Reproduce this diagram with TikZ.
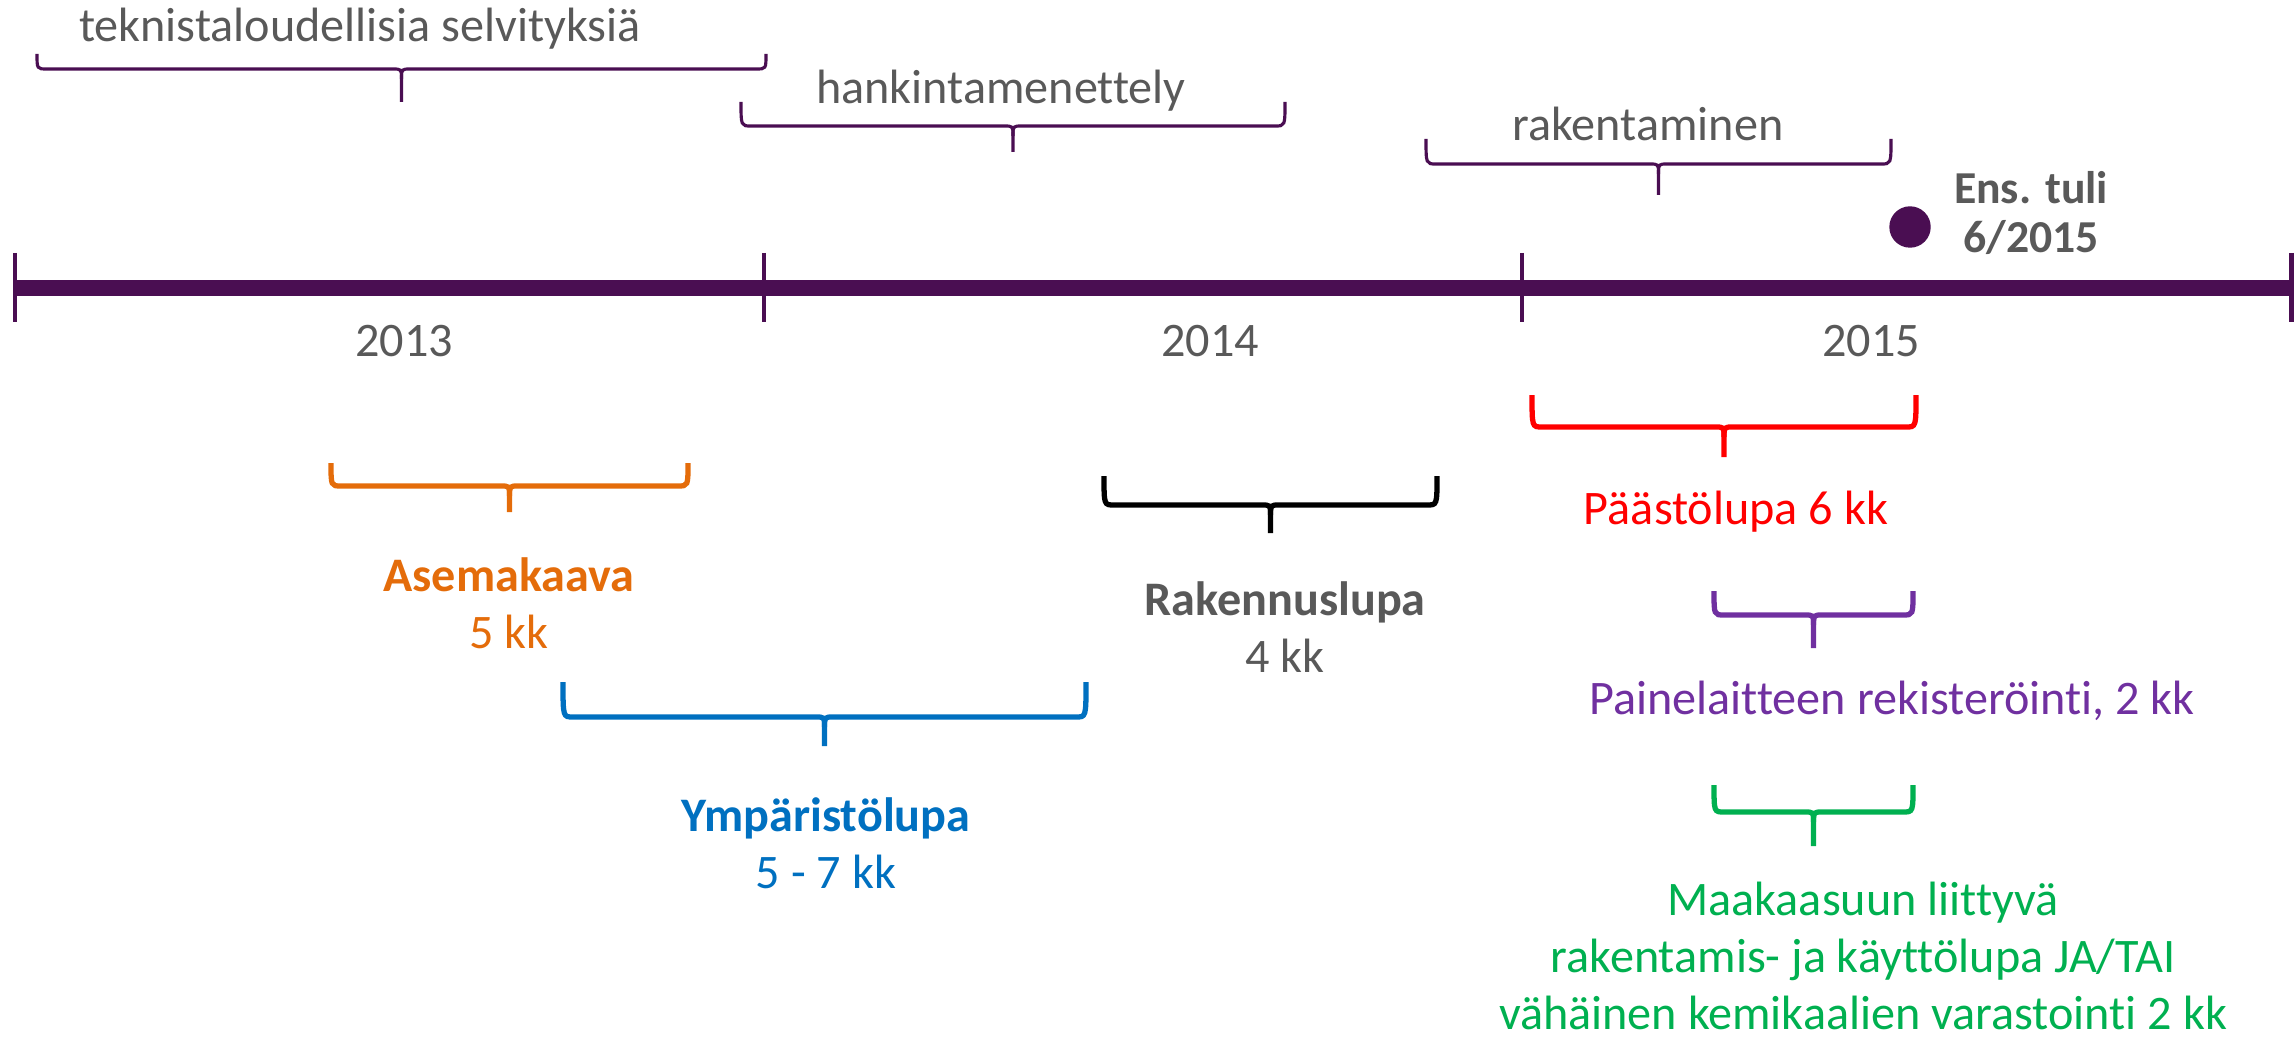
\documentclass[tikz,border=0pt]{standalone}
\usepackage{fontspec}
\setmainfont{Carlito}[Ligatures=NoCommon]
\usepackage{xcolor}
\usetikzlibrary{positioning}
\definecolor{axispurple}{RGB}{74,14,82}
\definecolor{labelgray}{RGB}{89,89,89}
\definecolor{kaavaorange}{RGB}{228,108,10}
\definecolor{lupablue}{RGB}{0,112,192}
\definecolor{painepurple}{RGB}{112,48,160}
\definecolor{kaasugreen}{RGB}{0,176,80}
% brace: style, left x, right x, top y, flat y, tip y
\newcommand{\spanbrace}[6]{%
  \pgfmathsetmacro\bracemid{(#2+#3)/2}
  \draw[#1] (#2,#4) .. controls (#2,#5) .. (#2+10,#5) -- (\bracemid-9,#5) .. controls (\bracemid,#5) .. (\bracemid,#5+10) -- (\bracemid,#6);
  \draw[#1] (#3,#4) .. controls (#3,#5) .. (#3-10,#5) -- (\bracemid+9,#5) .. controls (\bracemid,#5) .. (\bracemid,#5+10);
}

\begin{document}
\begin{tikzpicture}[x=0.01cm, y=-0.01cm,
    toptext/.style={text=labelgray, font=\fontsize{13.7}{16.5}\selectfont},
    permit/.style={font=\fontsize{13.7}{16.2}\selectfont, align=center},
    phase/.style={axispurple, line width=0.9pt},
    permitbrace/.style={line width=1.5pt}]
			\useasboundingbox (0,0) rectangle (2295,1040);
			% timeline
			\draw[axispurple, line width=4.6pt] (15,288) -- (2291,288);
			\draw[axispurple, line width=1.4pt] (15,253) -- (15,322);
			\draw[axispurple, line width=1.4pt] (764,253) -- (764,322);
			\draw[axispurple, line width=1.4pt] (1522,253) -- (1522,322);
			\draw[axispurple, line width=1.4pt] (2291,253) -- (2291,322);
			\node[toptext] (y2013) at (404,341) {2013};
			\node[toptext] (y2014) at (1210,341) {2014};
			\node[toptext] (y2015) at (1871,341) {2015};
			% start of operation
			\filldraw[axispurple] (1910,227) circle (20);
			\node[text=labelgray, font=\bfseries\fontsize{13}{13.8}\selectfont, align=center] (tuli) at (2031,213) {Ens. tuli\\6/2015};
			% phases above the axis
			\spanbrace{phase}{37}{766}{54}{69}{102}
			\node[toptext] (selvitys) at (360,29) {teknistaloudellisia selvityksiä};
			\spanbrace{phase}{741}{1285}{102}{126}{152}
			\node[toptext] (hankinta) at (1001,91) {hankintamenettely};
			\spanbrace{phase}{1426}{1891}{139}{164}{195}
			\node[toptext] (rakentaminen) at (1648,124) {rakentaminen};
			% permits below the axis
			\spanbrace{permitbrace, kaavaorange}{331}{688}{463}{486}{512}
			\node[permit, text=kaavaorange] (asemakaava) at (509,603) {\textbf{Asemakaava}\\5 kk};
			\spanbrace{permitbrace, lupablue}{563}{1086}{682}{717}{746}
			\node[permit, text=lupablue] (ymparisto) at (826,843) {\textbf{Ympäristölupa}\\5 - 7 kk};
			\spanbrace{permitbrace, black}{1104}{1437}{476}{505}{533}
			\node[permit, text=labelgray] (rakennus) at (1285,627) {\textbf{Rakennuslupa}\\4 kk};
			\spanbrace{permitbrace, red}{1532}{1916}{395}{427}{457}
			\node[permit, text=red] (paasto) at (1736,512) {Päästölupa 6 kk};
			\spanbrace{permitbrace, painepurple}{1714}{1913}{591}{615}{648}
			\node[permit, text=painepurple] (paine) at (1892,701) {Painelaitteen rekisteröinti, 2 kk};
			\spanbrace{permitbrace, kaasugreen}{1714}{1913}{785}{812}{846}
			\node[permit, text=kaasugreen] (maakaasu) at (1863,956) {Maakaasuun liittyvä\\rakentamis- ja käyttölupa JA/TAI\\vähäinen kemikaalien varastointi 2 kk};
		\end{tikzpicture}
\end{document}
